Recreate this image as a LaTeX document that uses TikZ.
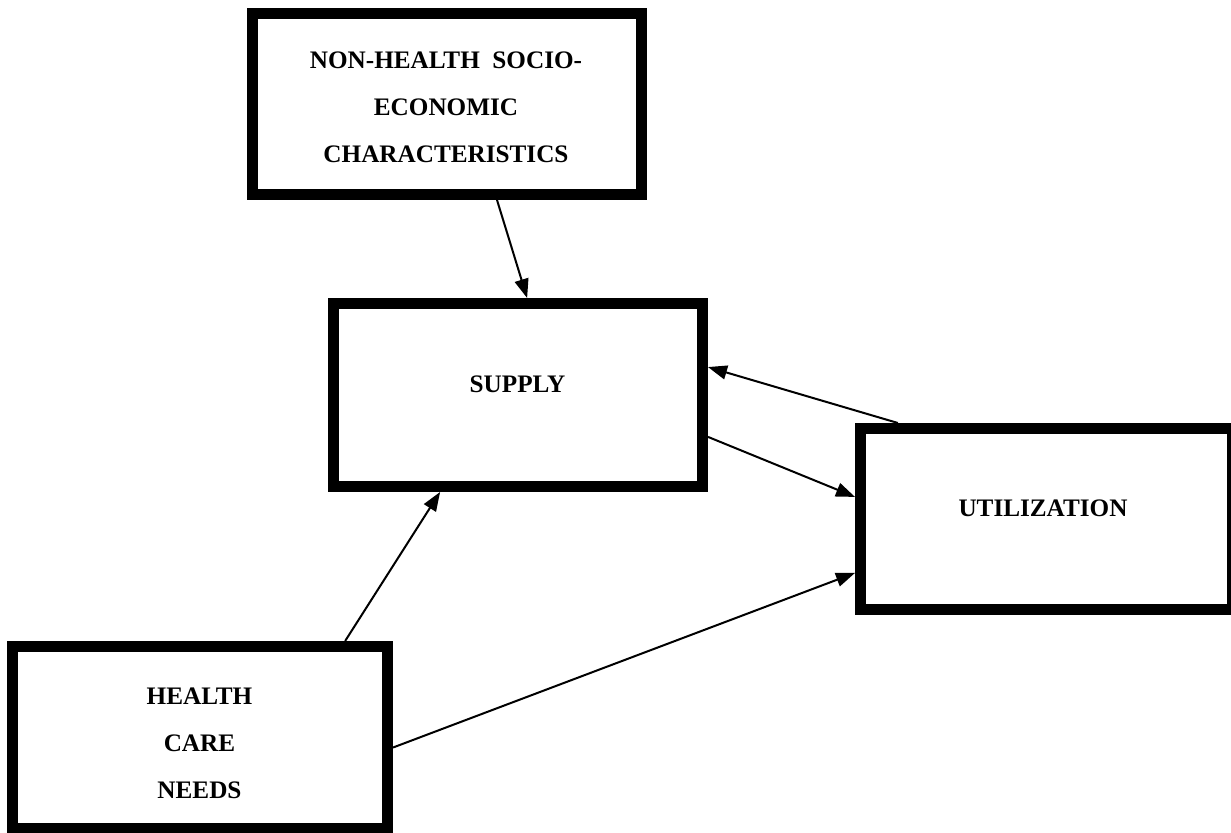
\documentclass[tikz,border=0pt]{standalone}
\usepackage{fontspec}
\setmainfont{Liberation Serif}
\usetikzlibrary{arrows.meta,calc}
\begin{document}
\begin{tikzpicture}[x=0.5pt,y=-0.5pt,
  box/.style={rectangle,draw=black,fill=white,line width=5.5pt,inner sep=0pt},
  lbl/.style={font=\bfseries\fontsize{12.6}{23.5}\selectfont,align=center,inner sep=0pt},
  link/.style={line width=1pt,-{Triangle[length=9.5pt,width=7pt]}}]
\useasboundingbox (0,0) rectangle (1231,833);

% boxes
\node[box,minimum width=194.5pt,minimum height=90.5pt] (top) at (447,104) {};
\node[box,minimum width=184.5pt,minimum height=91.5pt] (sup) at (518,395) {};
\node[box,minimum width=187.5pt,minimum height=91pt] (need) at (200,737.5) {};
\node[box,minimum width=186pt,minimum height=90.5pt] (util) at (1046.5,519) {};

% labels
\node[lbl] (top-t) at (446,107.5) {NON-HEALTH\enspace SOCIO-\\ECONOMIC\\CHARACTERISTICS};
\node[lbl] (sup-t) at (517.5,384.5) {SUPPLY};
\node[lbl] (need-t) at (199.5,743) {HEALTH\\CARE\\NEEDS};
\node[lbl] (util-t) at (1043,508.5) {UTILIZATION};

% connectors
\draw[link] ($(top.south west)!0.625!(top.south east)$) -- ($(sup.north west)!0.524!(sup.north east)$);
\draw[link] ($(need.north west)!0.876!(need.north east)$) -- ($(sup.south west)!0.295!(sup.south east)$);
\draw[link] ($(need.north east)!0.552!(need.south east)$) -- ($(util.north west)!0.781!(util.south west)$);
\draw[link] ($(util.north west)!0.112!(util.north east)$) -- ($(sup.north east)!0.356!(sup.south east)$);
\draw[link] ($(sup.north east)!0.716!(sup.south east)$) -- ($(util.north west)!0.385!(util.south west)$);
\end{tikzpicture}
\end{document}
